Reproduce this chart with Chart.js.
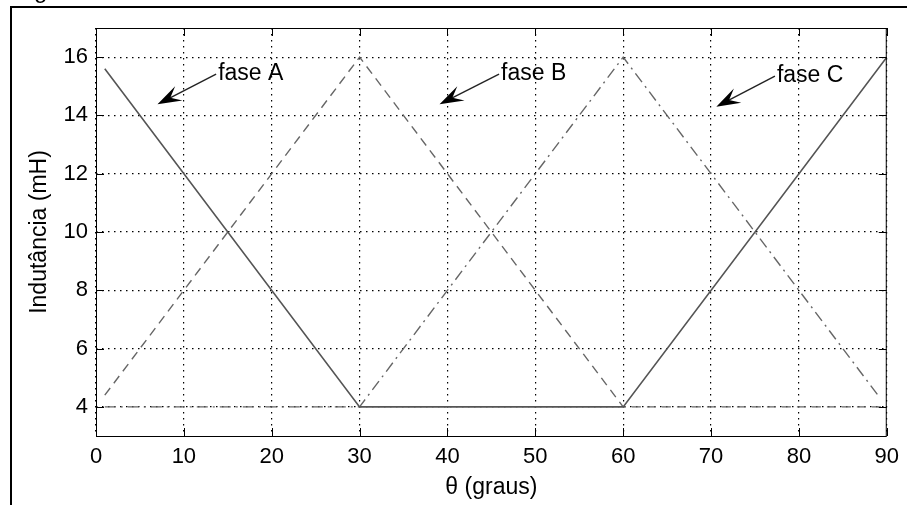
<!DOCTYPE html>
<html>
<head>
<meta charset="utf-8">
<script src="https://cdn.jsdelivr.net/npm/chart.js@4/dist/chart.umd.min.js"></script>
<style>
  body { margin: 0; background: #fff; }
  canvas { display: block; }
</style>
</head>
<body>
<canvas id="grafico" width="907" height="505"></canvas>
<script>
// dados (theta em graus, indutancia em mH)
const thetaA = [1, 30, 60, 90];
const faseA = [15.6, 4, 4, 16];
const thetaB = [1, 30, 60, 90];
const faseB = [4.4, 16, 4, 4];
const thetaC = [1, 30, 60, 89];
const faseC = [4, 4, 16, 4.4];

const ticksX = [0, 10, 20, 30, 40, 50, 60, 70, 80, 90];
const ticksY = [4, 6, 8, 10, 12, 14, 16];

// rotulos com seta: texto em (x, y), ponta da seta em (px, py)
const rotulos = ['fase A', 'fase B', 'fase C'];
const rotuloX = [13.9, 46.1, 77.5];
const rotuloY = [15.42, 15.42, 15.35];
const setaX = [7.0, 39.1, 70.6];
const setaY = [14.38, 14.38, 14.3];

const fonte = '"Liberation Sans", Arial, sans-serif';

function pontos(xs, ys) {
  return xs.map((x, i) => ({ x: x, y: ys[i] }));
}

// moldura da figura + pedaco da legenda cortada no topo
const moldura = {
  id: 'moldura',
  beforeDraw(chart) {
    const ctx = chart.ctx;
    ctx.save();
    ctx.fillStyle = '#fff';
    ctx.fillRect(0, 0, chart.width, chart.height);
    ctx.strokeStyle = '#000';
    ctx.lineWidth = 2;
    ctx.beginPath();
    ctx.moveTo(11, 505);
    ctx.lineTo(11, 7);
    ctx.lineTo(907, 7);
    ctx.stroke();
    ctx.fillStyle = '#000';
    ctx.font = '24px ' + fonte;
    ctx.textBaseline = 'alphabetic';
    ctx.fillText('g', 34, -2);
    ctx.restore();
  }
};

// caixa do grafico, marcas para dentro e setas
const extras = {
  id: 'extras',
  afterDraw(chart) {
    const ctx = chart.ctx;
    const a = chart.chartArea;
    const sx = chart.scales.x;
    const sy = chart.scales.y;
    ctx.save();
    ctx.strokeStyle = '#000';
    ctx.lineWidth = 1;
    ctx.strokeRect(a.left + 0.5, a.top + 0.5, a.right - a.left - 1, a.bottom - a.top);
    ctx.beginPath();
    ticksX.forEach(v => {
      const px = Math.round(sx.getPixelForValue(v)) + 0.5;
      ctx.moveTo(px, a.bottom);
      ctx.lineTo(px, a.bottom - 8);
      ctx.moveTo(px, a.top);
      ctx.lineTo(px, a.top + 8);
    });
    ticksY.forEach(v => {
      const py = Math.round(sy.getPixelForValue(v)) + 0.5;
      ctx.moveTo(a.left, py);
      ctx.lineTo(a.left + 8, py);
      ctx.moveTo(a.right, py);
      ctx.lineTo(a.right - 8, py);
    });
    ctx.stroke();

    ctx.font = '23px ' + fonte;
    ctx.textBaseline = 'middle';
    ctx.fillStyle = '#000';
    rotulos.forEach((txt, i) => {
      const tx = sx.getPixelForValue(rotuloX[i]);
      const ty = sy.getPixelForValue(rotuloY[i]);
      const px = sx.getPixelForValue(setaX[i]);
      const py = sy.getPixelForValue(setaY[i]);
      ctx.fillText(txt, tx, ty);
      const x0 = tx - 2, y0 = ty;
      const ang = Math.atan2(py - y0, px - x0);
      ctx.strokeStyle = '#222';
      ctx.lineWidth = 1.4;
      ctx.beginPath();
      ctx.moveTo(x0, y0);
      ctx.lineTo(px - 12 * Math.cos(ang), py - 12 * Math.sin(ang));
      ctx.stroke();
      // ponta da seta
      const L = 24, W = 8;
      const bx = px - L * Math.cos(ang), by = py - L * Math.sin(ang);
      const nx = -Math.sin(ang), ny = Math.cos(ang);
      const mx = px - 0.6 * L * Math.cos(ang), my = py - 0.6 * L * Math.sin(ang);
      ctx.fillStyle = '#000';
      ctx.beginPath();
      ctx.moveTo(px, py);
      ctx.lineTo(bx + nx * W, by + ny * W);
      ctx.lineTo(mx, my);
      ctx.lineTo(bx - nx * W, by - ny * W);
      ctx.closePath();
      ctx.fill();
    });
    ctx.restore();
  }
};

new Chart(document.getElementById('grafico'), {
  type: 'line',
  data: {
    datasets: [
      {
        label: 'fase A',
        data: pontos(thetaA, faseA),
        borderColor: '#555',
        borderWidth: 1.6,
        pointRadius: 0,
        tension: 0
      },
      {
        label: 'fase B',
        data: pontos(thetaB, faseB),
        borderColor: '#666',
        borderWidth: 1.4,
        borderDash: [9, 6],
        pointRadius: 0,
        tension: 0
      },
      {
        label: 'fase C',
        data: pontos(thetaC, faseC),
        borderColor: '#666',
        borderWidth: 1.4,
        borderDash: [11, 5, 2, 5],
        pointRadius: 0,
        tension: 0
      }
    ]
  },
  options: {
    responsive: false,
    animation: false,
    layout: { padding: { top: 28, right: 19, left: 0, bottom: 0 } },
    plugins: {
      legend: { display: false },
      tooltip: { enabled: false }
    },
    scales: {
      x: {
        type: 'linear',
        min: 0,
        max: 90,
        afterBuildTicks: s => { s.ticks = ticksX.map(v => ({ value: v })); },
        afterFit: s => { s.height = 69; },
        ticks: {
          color: '#000',
          padding: 8,
          maxRotation: 0,
          font: { family: fonte, size: 22 }
        },
        grid: { color: '#000', lineWidth: 1.2, drawTicks: false },
        border: { display: false, dash: [1.5, 4.5] },
        title: {
          display: true,
          text: 'θ (graus)',
          color: '#000',
          padding: { top: 0, bottom: 4 },
          font: { family: fonte, size: 23 }
        }
      },
      y: {
        type: 'linear',
        min: 3,
        max: 17,
        afterBuildTicks: s => { s.ticks = ticksY.map(v => ({ value: v })); },
        afterFit: s => { s.width = 96; },
        ticks: {
          color: '#000',
          padding: 8,
          font: { family: fonte, size: 22 }
        },
        grid: { color: '#000', lineWidth: 1.2, drawTicks: false },
        border: { display: false, dash: [1.5, 4.5] },
        title: {
          display: true,
          text: 'Indutância (mH)',
          color: '#000',
          padding: { top: 26, bottom: 0 },
          font: { family: fonte, size: 23 }
        }
      }
    }
  },
  plugins: [moldura, extras]
});
</script>
</body>
</html>
